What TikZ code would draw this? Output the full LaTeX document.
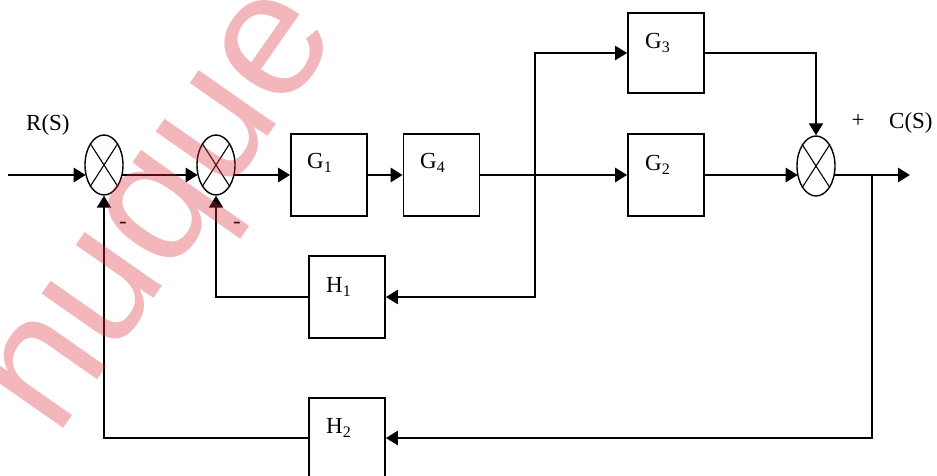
\documentclass[tikz,border=0pt]{standalone}
\usepackage{fontspec}
\setmainfont{Liberation Serif}
\newfontfamily\wmfont{Liberation Sans}
\usetikzlibrary{shapes.geometric,arrows.meta,calc}

\definecolor{wmred}{RGB}{218,46,61}

% lowered index for block names (G_1, H_2, ...)
\newcommand{\idx}[1]{\raisebox{-4pt}{\fontsize{16}{16}\selectfont #1}}

\begin{document}
\begin{tikzpicture}[x=1pt,y=-1pt,
  blk/.style={draw,line width=1.7pt,minimum width=76pt,minimum height=82pt,inner sep=0pt},
  sumj/.style={draw,ellipse,line width=1.4pt,minimum width=38pt,minimum height=60pt,inner sep=0pt},
  txt/.style={font=\fontsize{23}{23}\selectfont,inner sep=0pt},
  tip/.style={-{Triangle[length=12pt,width=14pt]}},
  fwd/.style={line width=2.8pt,tip},
  sig/.style={line width=2.2pt},
  fb/.style={line width=1.9pt},
]
\useasboundingbox (0,0) rectangle (937,475);
\clip (0,0) rectangle (937,475);

% summing junctions
\node[sumj] (s1) at (104,165) {};
\node[sumj] (s2) at (216,165) {};
\node[sumj] (s3) at (816,166) {};
\foreach \s in {s1,s2,s3}{
  \draw[line width=1.1pt] (\s.north west) -- (\s.south east);
  \draw[line width=1.1pt] (\s.north east) -- (\s.south west);
}

% blocks
\node[blk] (g1) at (329,175) {};
\node[blk] (g4) at (441.5,175) {};
\node[blk] (g2) at (666,175) {};
\node[blk,minimum height=80pt] (g3) at (666,53) {};
\node[blk] (h1) at (347,297) {};
\node[blk,minimum height=80pt] (h2) at (347,438) {};

% block names
\node[txt,anchor=base west] (g1t) at (307,168) {G\idx{1}};
\node[txt,anchor=base west] (g4t) at (420,168) {G\idx{4}};
\node[txt,anchor=base west] (g2t) at (645,170) {G\idx{2}};
\node[txt,anchor=base west] (g3t) at (645,48) {G\idx{3}};
\node[txt,anchor=base west] (h1t) at (326,292) {H\idx{1}};
\node[txt,anchor=base west] (h2t) at (326,433) {H\idx{2}};

% signal labels and signs
\node[txt,anchor=base west] (rs) at (26,130) {R(S)};
\node[txt,anchor=base west] (cs) at (889,128) {C(S)};
\node[txt] (plus) at (858,121) {+};
\node[txt] (m1) at (123,225) {-};
\node[txt] (m2) at (237,225) {-};

% auxiliary points
\coordinate (in) at (8,175);
\coordinate (out) at (910,175);
\coordinate (b1) at (535,175);
\coordinate (b2) at (872,175);

% forward path
\draw[fwd] (in) -- (s1.212 |- in);
\draw[fwd] (s1.328 |- in) -- (s2.212 |- in);
\draw[fwd] (s2.328 |- in) -- (g1.west);
\draw[fwd] (g1.east) -- (g4.west);
\draw[fwd] (g4.east) -- (g2.west);
\draw[fwd] (g2.east) -- (s3.212 |- g2.east);
\draw[fwd] (s3.328 |- in) -- (out);

% parallel branch through G3
\draw[sig,tip] (b1) |- (g3.west);
\draw[sig,tip] (g3.east) -| (s3.north);

% feedback loops
\draw[sig,tip] (b1) |- (h1.east);
\draw[fb,tip] (h1.west) -| (s2.south);
\draw[line width=2.4pt,tip] (b2) |- (h2.east);
\draw[fb,tip] (h2.west) -| (s1.south);

% diagonal watermark lettering
\node[rotate=55,anchor=base,inner sep=0pt,text=wmred,text opacity=0.35,
      font=\wmfont\fontsize{178}{178}\selectfont] (wm) at (198,236) {nuque};
\end{tikzpicture}
\end{document}
